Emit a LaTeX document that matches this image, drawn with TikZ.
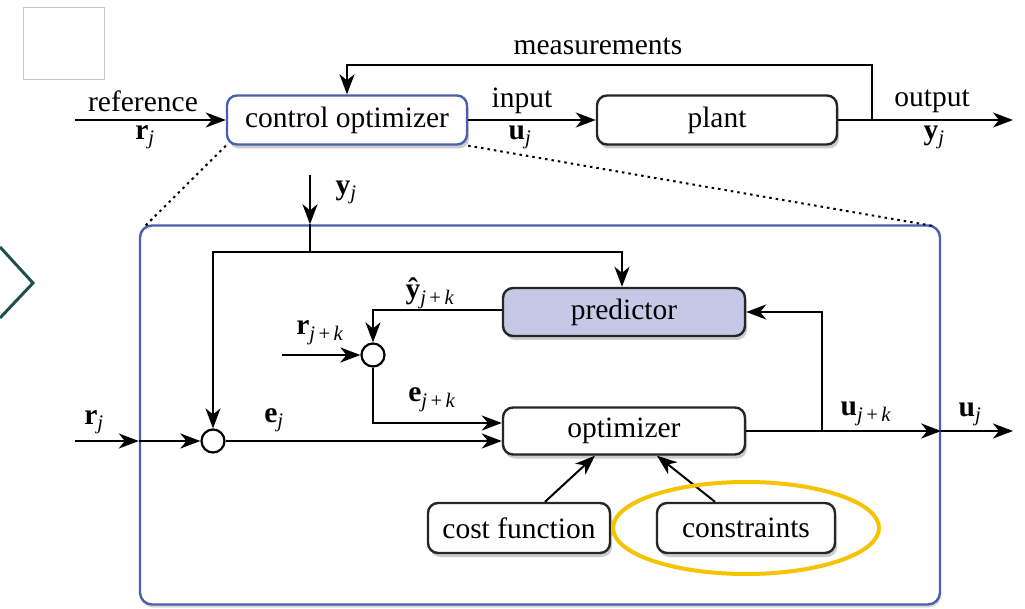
\documentclass[tikz,border=0pt]{standalone}
\usepackage{fontspec}
\setmainfont{Liberation Serif}
\usetikzlibrary{arrows.meta,shadows,shapes.geometric}
\definecolor{bordblue}{RGB}{74,96,170}
\definecolor{predfill}{RGB}{197,201,230}
\definecolor{chevron}{RGB}{31,79,79}
\definecolor{hilite}{RGB}{245,196,0}
\newcommand{\bv}[1]{\textbf{#1}}
\newcommand{\sj}{\textsubscript{\textit{j}}}
\newcommand{\sjk}{\textsubscript{\textit{j}\,+\,\textit{k}}}
\begin{document}
\begin{tikzpicture}[x=1pt,y=-1pt,
  every node/.style={font=\fontsize{29.5}{34}\selectfont, inner sep=0pt},
  blk/.style={draw=black!85, line width=2.4pt, rounded corners=10pt, fill=white,
    drop shadow={shadow xshift=2pt, shadow yshift=-4pt, opacity=0.4},
    minimum height=49pt},
  topblk/.style={blk, draw=bordblue},
  bigbox/.style={draw=bordblue, line width=2.4pt, rounded corners=12pt, fill=white,
    drop shadow={shadow xshift=1pt, shadow yshift=-3pt, opacity=0.3}},
  sumc/.style={circle, draw=black, line width=2.2pt, fill=white, minimum size=23pt},
  tip/.style={-{Stealth[length=20pt,width=15pt,inset=6pt]}},
  arr/.style={line width=2.4pt, tip},
  ln/.style={line width=2.4pt},
  dots/.style={line width=2pt, dash pattern=on 2.5pt off 4pt}
]
\useasboundingbox (0,0) rectangle (1025,609);

% decorations
\node[draw=black!22, line width=1pt, minimum width=81pt, minimum height=72pt] (sq) at (63.5,44) {};
\draw[chevron, line width=3pt] (0,247) -- (33,283) -- (0,318);

% top row
\node[topblk, minimum width=240pt] (co) at (347,120) {control optimizer};
\node[blk, minimum width=240pt] (plant) at (717,120) {plant};

\coordinate (refin) at (75,120);
\coordinate (outend) at (1013,120);
\coordinate (mtap) at (872,120);
\draw[arr] (refin) -- (co);
\draw[arr] (co) -- (plant);
\draw[arr] (plant) -- (outend);
\draw[arr] (mtap) -- ++(0,-55) -| (co.north);

\node (lref) at (143,101) {reference};
\node (lrj) at (145,137) {\bv{r}\sj};
\node (lin) at (522,101) {input};
\node (luj) at (520,137) {\bv{u}\sj};
\node (lout) at (932,101) {output};
\node (lyj) at (934,137) {\bv{y}\sj};
\node (lmeas) at (598,46) {measurements};

% big box
\node[bigbox, minimum width=800pt, minimum height=379pt] (big) at (540,415) {};
\draw[dots] (co.south west) -- ([xshift=6pt,yshift=-2pt]big.north west);
\draw[dots] (co.south east) -- ([xshift=-6pt,yshift=-2pt]big.north east);

\node[blk, fill=predfill, minimum width=242pt, minimum height=48pt] (pred) at (624,312) {predictor};
\node[blk, minimum width=242pt, minimum height=47pt] (opt) at (624,431) {optimizer};
\node[blk, minimum width=182pt, minimum height=50pt] (cost) at (519,528) {cost function};
\node[blk, minimum width=178pt, minimum height=50pt] (cons) at (746,528) {constraints};
\node[sumc] (s1) at (213,441) {};
\node[sumc] (s2) at (373,355) {};

\coordinate (yin) at (310,175);
\coordinate (yj) at (310,252);
\draw[arr] (yin) -- (yin |- big.north);
\draw[ln] (yin |- big.north) -- (yj);
\draw[arr] (yj) -| (s1.north);
\draw[arr] (yj) -| ([xshift=-2pt]pred.north);
\draw[arr] ([yshift=2pt]pred.west) -| (s2.north);
\coordinate (rjk) at (282,355);
\draw[arr] (rjk) -- (s2.west);
\draw[arr] (s2.south) |- ([yshift=8pt]opt.west);
\coordinate (rjin) at (75,441);
\draw[arr] (rjin) -- (rjin -| big.west);
\draw[arr] (rjin -| big.west) -- (s1.west);
\draw[arr] (s1.east) -- (s1.east -| opt.west);
\draw[arr] (opt.east) -- (opt.east -| big.east);
\coordinate (ujout) at (1013,431);
\draw[arr] (opt.east -| big.east) -- (ujout);
\coordinate (ub) at (822,431);
\draw[arr] (ub) |- (pred.east);
\draw[line width=2pt, tip] ([xshift=26pt]cost.north) -- ([xshift=-29pt]opt.south);
\draw[line width=2pt, tip] ([xshift=-31pt]cons.north) -- ([xshift=33pt]opt.south);

\node (lyj2) at (346,192) {\bv{y}\sj};
\node (lyhat) at (430,293) {\bv{ŷ}\sjk};
\node (lrjk) at (320,333) {\bv{r}\sjk};
\node (lejk) at (432,400) {\bv{e}\sjk};
\node (lrj2) at (94,422) {\bv{r}\sj};
\node (lej) at (274,420) {\bv{e}\sj};
\node (lujk) at (866,414) {\bv{u}\sjk};
\node (luj2) at (970,414) {\bv{u}\sj};

\node[ellipse, draw=hilite, line width=4pt, minimum width=266pt, minimum height=92pt] (hl) at (746,528) {};
\end{tikzpicture}
\end{document}
